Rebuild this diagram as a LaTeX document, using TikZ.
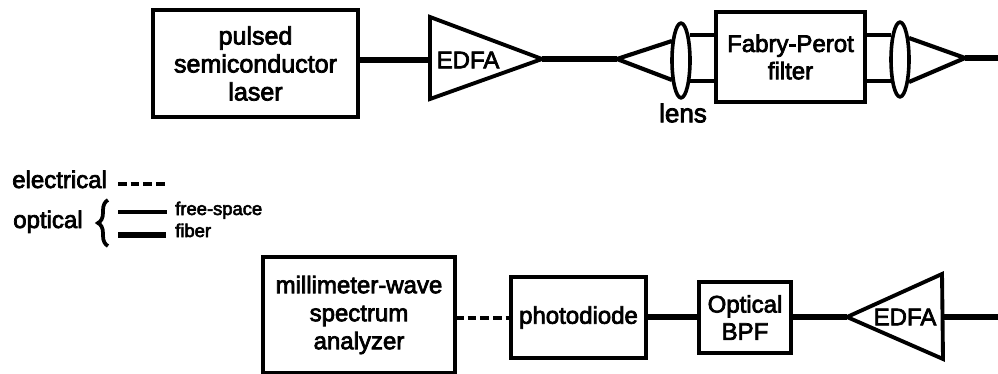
\documentclass[tikz,border=0pt]{standalone}
\usepackage{fontspec}
\setmainfont[FakeBold=3]{Liberation Sans}
\usetikzlibrary{shapes.geometric,decorations.pathreplacing}
\begin{document}
\begin{tikzpicture}[x=0.75pt,y=-0.75pt,
  boxn/.style={draw=black,line width=2.9pt,fill=white,inner sep=0pt,outer sep=0pt,align=center,font=\fontsize{18}{20.5}\selectfont},
  lensn/.style={draw=black,line width=2.7pt,ellipse,inner sep=0pt,outer sep=0pt,minimum width=13.5pt,minimum height=56pt},
  fiber/.style={line width=4.2pt},
  free/.style={line width=2.9pt},
  cone/.style={line width=3.1pt,line join=miter},
  elec/.style={line width=3.6pt,dash pattern=on 6.5pt off 3pt},
  tri/.style={draw=black,line width=2.9pt,line join=miter},
  lab/.style={inner sep=0pt,font=\fontsize{18}{20.5}\selectfont},
  small/.style={inner sep=0pt,font=\fontsize{13.8}{15}\selectfont}]
\useasboundingbox (0,0) rectangle (998,374);
% named points
\coordinate (t1in) at (430,60);
\coordinate (t1up) at (430,17);
\coordinate (t1dn) at (430,99);
\coordinate (t1tip) at (542,59);
\coordinate (cl) at (617,59);
\coordinate (cr) at (965,58);
\coordinate (topend) at (998,58);
\coordinate (t2tip) at (847,317);
\coordinate (t2up) at (942,274);
\coordinate (t2dn) at (943,359);
\coordinate (t2out) at (943,317);
\coordinate (botend) at (998,317);
% top row
\node[boxn,font=\fontsize{18.8}{20.5}\selectfont,minimum width=154pt,minimum height=80.5pt] (laser) at (255.5,63.5) {pulsed\\[0.5pt]semiconductor\\[0.5pt]laser};
\node[boxn,minimum width=112pt,minimum height=67.5pt] (fp) at (790.5,57) {Fabry-Perot\\filter};
\node[lensn] (lensl) at (681,60.5) {};
\node[lensn] (lensr) at (900,59.5) {};
\draw[fiber] (laser.east |- t1in) -- (t1in);
\draw[tri] (t1up) -- (t1tip) -- (t1dn) -- cycle;
\node[lab] (edfa1) at (468,60) {EDFA};
\draw[fiber] (t1tip) -- (cl);
\draw[cone] (lensl.west |- 0,41) -- (cl) -- (lensl.west |- 0,80);
\draw[free] (lensl.east |- 0,35) -- (fp.west |- 0,35);
\draw[free] (lensl.east |- 0,81) -- (fp.west |- 0,81);
\draw[free] (fp.east |- 0,35) -- (lensr.west |- 0,35);
\draw[free] (fp.east |- 0,81) -- (lensr.west |- 0,81);
\draw[cone] (lensr.east |- 0,38) -- (cr) -- (lensr.east |- 0,82);
\draw[fiber] (cr) -- (topend);
\node[lab,font=\fontsize{19.5}{20.5}\selectfont] (lenslab) at (683,113) {lens};
% legend
\node[lab,anchor=base west] (elab) at (12,188) {electrical};
\coordinate (es) at (118,184); \coordinate (ee) at (166,184);
\draw[elec] (es) -- (ee);
\node[lab,anchor=base west] (olab) at (13,228) {optical};
\draw[line width=2.8pt,decorate,decoration={brace,amplitude=7.5pt}] (108,246) -- (108,200);
\coordinate (fs) at (118,212); \coordinate (fe) at (167,212);
\coordinate (ffs) at (118,235); \coordinate (ffe) at (166,235);
\draw[free] (fs) -- (fe);
\draw[fiber] (ffs) -- (ffe);
\node[small,anchor=base west] (fslab) at (175,215) {free-space};
\node[small,anchor=base west] (fblab) at (175,237) {fiber};
% bottom row
\node[boxn,minimum width=144pt,minimum height=86.5pt] (msa) at (359,315) {millimeter-wave\\[0.5pt]spectrum\\[0.5pt]analyzer};
\node[boxn,minimum width=101pt,minimum height=61pt] (pd) at (578.5,317.5) {photodiode};
\node[boxn,minimum width=69pt,minimum height=53pt] (bpf) at (745,317.5) {Optical\\BPF};
\draw[elec] (msa.east |- 0,318) -- (pd.west |- 0,318);
\draw[fiber] (pd.east |- t2tip) -- (bpf.west |- t2tip);
\draw[fiber] (bpf.east |- t2tip) -- (t2tip);
\draw[tri] (t2up) -- (t2tip) -- (t2dn) -- cycle;
\node[lab] (edfa2) at (905,317) {EDFA};
\draw[fiber] (t2out) -- (botend);
\end{tikzpicture}
\end{document}
